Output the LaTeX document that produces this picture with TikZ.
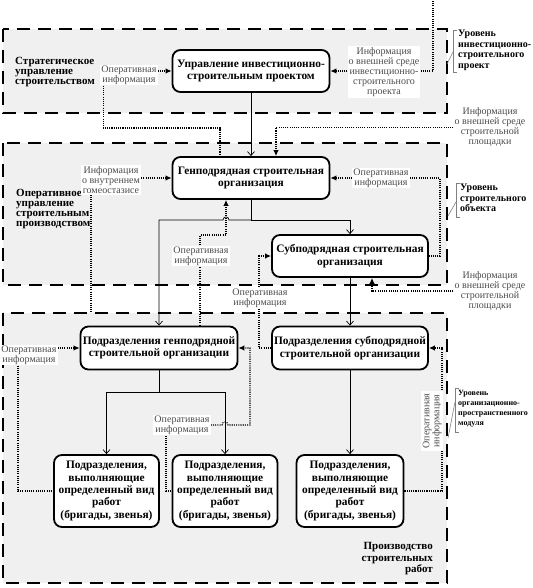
\documentclass[tikz,border=0pt]{standalone}
\usepackage{fontspec}
\setmainfont{Liberation Serif}
\usetikzlibrary{arrows.meta}
\pgfdeclarelayer{bg}
\pgfdeclarelayer{fg}
\pgfsetlayers{bg,main,fg}
\begin{document}
\begin{tikzpicture}[x=1pt,y=-1pt,
 region/.style={draw, line width=2.6pt, dash pattern=on 13pt off 8pt, fill=gray!12},
 box/.style={draw, line width=1.8pt, rounded corners=8pt, fill=white, font=\fontsize{11.4}{12.3}\selectfont\bfseries, align=center, inner sep=0pt},
 lbl/.style={fill=white, font=\fontsize{10}{10}\selectfont, text=black!70, align=center, inner sep=1pt},
 lvl/.style={font=\fontsize{10}{10.5}\selectfont\bfseries, align=left, inner sep=0pt, anchor=north west},
 reg/.style={font=\fontsize{11}{10}\selectfont\bfseries, align=left, inner sep=0pt},
 sol/.style={line width=0.7pt},
 solar/.style={sol, -{Straight Barb[length=4pt,width=7pt]}},
 info/.style={line width=1.1pt, dash pattern=on 1.1pt off 1.1pt},
 infar/.style={info, -{Latex[length=6pt,width=5.5pt]}},
 call/.style={gray, line width=0.6pt}]
\useasboundingbox (0,0) rectangle (532,588);
\begin{pgfonlayer}{bg}
\draw[region] (3,29) rectangle (447,113);
\draw[region] (3,143) rectangle (447,285);
\draw[region] (3,313) rectangle (447,583);
\end{pgfonlayer}

% boxes
\node[box, minimum width=157, minimum height=42] (B1) at (251,71) {Управление инвестиционно-\\строительным проектом};
\node[box, minimum width=157, minimum height=42] (B2) at (251,178) {Генподрядная строительная\\организация};
\node[box, minimum width=156, minimum height=42] (B3) at (350,256) {Субподрядная строительная\\организация};
\node[box, minimum width=157, minimum height=43] (B4) at (159,348) {Подразделения генподрядной\\строительной организации};
\node[box, minimum width=156, minimum height=43] (B5) at (350,348) {Подразделения субподрядной\\строительной организации};
\node[box, minimum width=105, minimum height=72] (B6) at (106.5,491) {Подразделения,\\выполняющие\\определенный вид\\работ\\(бригады, звенья)};
\node[box, minimum width=105, minimum height=72] (B7) at (225,491) {Подразделения,\\выполняющие\\определенный вид\\работ\\(бригады, звенья)};
\node[box, minimum width=107, minimum height=72] (B8) at (350,491) {Подразделения,\\выполняющие\\определенный вид\\работ\\(бригады, звенья)};

% labels
\begin{pgfonlayer}{fg}
\node[lbl] (L1) at (129,75) {Оперативная\\информация};
\node[lbl] (L2) at (384,72) {Информация\\о внешней среде\\инвестиционно-\\строительного\\проекта};
\node[lbl] (L3) at (490,127.5) {Информация\\о внешней среде\\строительной\\площадки};
\node[lbl] (L4) at (111,180) {Информация\\о внутреннем\\гомеостазисе};
\node[lbl] (L5) at (381,178) {Оперативная\\информация};
\node[lbl] (L6) at (201,256) {Оперативная\\информация};
\node[lbl] (L7) at (260,298) {Оперативная\\информация};
\node[lbl] (L8) at (490,291) {Информация\\о внешней среде\\строительной\\площадки};
\node[lbl] (L9) at (29,355) {Оперативная\\информация};
\node[lbl] (L10) at (182,425) {Оперативная\\информация};
\node[lbl, rotate=90, inner sep=2pt] (L11) at (432,421) {Оперативная\\информация};
\end{pgfonlayer}

% region titles
\node[reg, anchor=west] (S1) at (15,72) {Стратегическое\\управление\\строительством};
\node[reg, anchor=west] (S2) at (16,209) {Оперативное\\управление\\строительным\\производством};
\node[reg, anchor=east, align=right, font=\fontsize{11}{11.5}\selectfont\bfseries] (S3) at (433,559) {Производство\\строительных\\работ};

% level labels
\node[lvl] (U1) at (458,30) {Уровень\\инвестиционно-\\строительного\\проект};
\node[lvl] (U2) at (460,184) {Уровень\\строительного\\объекта};
\node[lvl, font=\fontsize{8}{10}\selectfont\bfseries] (U3) at (458,390) {Уровень\\организационно-\\пространственного\\модуля};
\draw[call] (457,30) -- (453,30) -- (453,72) -- (457,72);
\draw[call] (453,52) -- (447,64);
\draw[call] (460,183) -- (456,183) -- (456,217) -- (460,217);
\draw[call] (456,202) -- (448,216);
\draw[call] (459,388) -- (455,388) -- (455,432) -- (459,432);
\draw[call] (455,402) -- (448,438);

% solid hierarchy
\coordinate (bus) at (251,220);
\coordinate (bus2) at (159,392);
\draw[solar] (B1.south) -- (B2.north);
\draw[sol] (B2.south) -- (bus);
\draw[solar] (bus) -| (B3.north);
\draw[solar] (bus) -- (229,220) .. controls (229,216) and (223,216) .. (223,220) -- (159,220) -- (B4.north);
\draw[solar] (B3.south) -- (B5.north);
\draw[sol] (B4.south) -- (bus2);
\draw[solar] (bus2) -| (B6.north);
\draw[solar] (bus2) -| (B7.north);
\draw[solar] (B5.south) -- (B8.north);

% information flows
\coordinate (topend) at (433,0);
\coordinate (r3a) at (91,313);
\draw[infar] (L1.east |- B1.west) -- (B1.west);
\draw[info] ([xshift=3pt]L1.south west) |- (220,128) -- (220,0 |- B2.north);
\draw[infar] (L2.west |- B1.east) -- (B1.east);
\draw[info] (L2.east |- B1.east) -| (topend);
\draw[infar] (L3.west) -| (276,0 |- B2.north);
\draw[infar] (L4.east |- B2.west) -- (B2.west);
\draw[info] (91,0 |- L4.south) -- (r3a);
\draw[infar] (L5.west |- B2.east) -- (B2.east);
\draw[info] (L5.east |- B2.east) -| (440,0 |- B3.east) -- (B3.east);
\draw[info] (200,0 |- B4.north) -- (200,0 |- L6.south);
\draw[infar] (200,0 |- L6.north) |- (226,235) -- (226,0 |- B2.south);
\draw[infar] (259,0 |- L7.north) |- (B3.west);
\draw[info] (259,0 |- L7.south) |- (B5.west);
\draw[infar] (L8.west) -| (372,0 |- B3.south);
\draw[infar] (L9.east |- B4.west) -- (B4.west);
\draw[info] (18,0 |- L9.south) |- (B6.west);
\draw[infar] (L10.east) -- (222,425) .. controls (222,421) and (228,421) .. (228,425) -- (250,425) |- (B4.east);
\draw[info] (166,0 |- L10.south) |- (B7.west);
\draw[infar] (B8.east) -| (442,0 |- B5.east) -- (B5.east);
\end{tikzpicture}
\end{document}
